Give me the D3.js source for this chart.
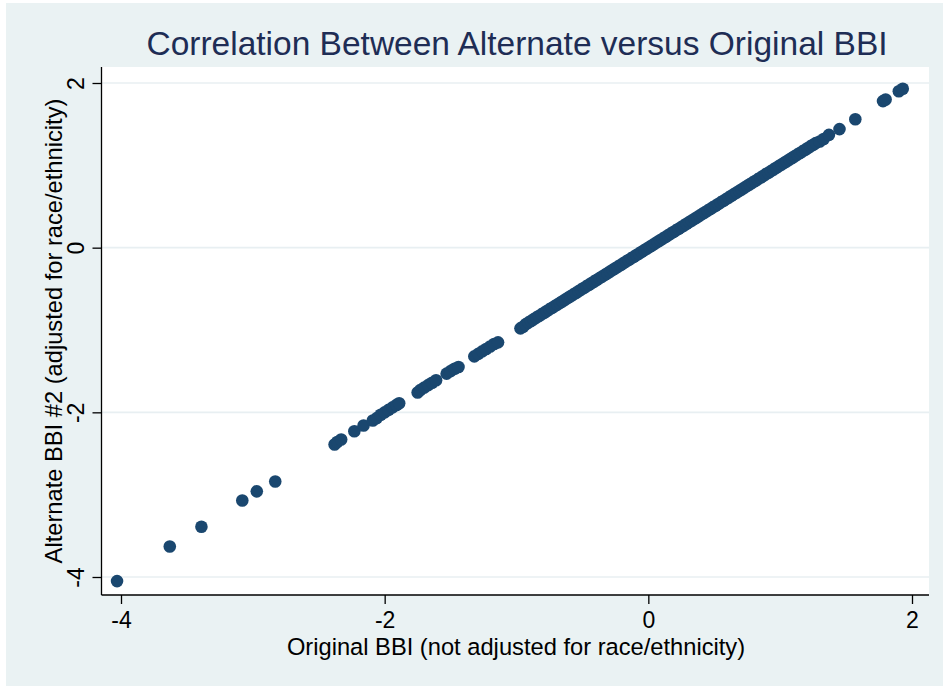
<!DOCTYPE html>
<html>
<head>
<meta charset="utf-8">
<script src="https://cdn.jsdelivr.net/npm/d3@7"></script>
<style>
  html, body { margin: 0; padding: 0; background: #ffffff; }
  svg { display: block; }
</style>
</head>
<body>
<svg id="chart" width="943" height="688"></svg>
<script>
// ---- data ----
const title = "Correlation Between Alternate versus Original BBI";
const xLabel = "Original BBI (not adjusted for race/ethnicity)";
const yLabel = "Alternate BBI #2 (adjusted for race/ethnicity)";
const xTicks = [-4, -2, 0, 2];
const yTicks = [-4, -2, 0, 2];

// Original BBI (x)
const originalBBI = [
  -4.03, -3.63, -3.39, -3.08, -2.97, -2.83,
  -2.38, -2.36, -2.33, -2.23, -2.16,
  -2.09, -2.06, -2.03, -2.00, -1.97, -1.94, -1.91, -1.89,
  -1.75, -1.73, -1.70, -1.67, -1.64, -1.61,
  -1.53, -1.50, -1.47, -1.44,
  -1.32, -1.29, -1.26, -1.23, -1.20, -1.17, -1.14,
  -0.97, -0.95, -0.93, -0.91, -0.89, -0.87, -0.85, -0.83, -0.81, -0.79,
  -0.77, -0.75, -0.73, -0.71, -0.69, -0.67, -0.65, -0.63, -0.61, -0.59,
  -0.57, -0.55, -0.53, -0.51, -0.49, -0.47, -0.45, -0.43, -0.41, -0.39,
  -0.37, -0.35, -0.33, -0.31, -0.29, -0.27, -0.25, -0.23, -0.21, -0.19,
  -0.17, -0.15, -0.13, -0.11, -0.09, -0.07, -0.05, -0.03, -0.01, 0.01,
  0.03, 0.05, 0.07, 0.09, 0.11, 0.13, 0.15, 0.17, 0.19, 0.21,
  0.23, 0.25, 0.27, 0.29, 0.31, 0.33, 0.35, 0.37, 0.39, 0.41,
  0.43, 0.45, 0.47, 0.49, 0.51, 0.53, 0.55, 0.57, 0.59, 0.61,
  0.63, 0.65, 0.67, 0.69, 0.71, 0.73, 0.75, 0.77, 0.79, 0.81,
  0.83, 0.85, 0.87, 0.89, 0.91, 0.93, 0.95, 0.97, 0.99, 1.01,
  1.03, 1.05, 1.07, 1.09, 1.11, 1.13, 1.15, 1.17, 1.19, 1.21,
  1.23, 1.25, 1.27, 1.30, 1.33,
  1.37, 1.45, 1.57, 1.78, 1.80, 1.90, 1.93
];
// Alternate BBI #2 (y)
const alternateBBI = [
  -4.05, -3.63, -3.39, -3.07, -2.96, -2.84,
  -2.39, -2.36, -2.33, -2.23, -2.16,
  -2.10, -2.07, -2.03, -2.00, -1.97, -1.94, -1.91, -1.89,
  -1.76, -1.73, -1.70, -1.67, -1.64, -1.61,
  -1.53, -1.50, -1.47, -1.45,
  -1.32, -1.29, -1.26, -1.23, -1.20, -1.17, -1.15,
  -0.98, -0.96, -0.93, -0.91, -0.89, -0.87, -0.85, -0.83, -0.81, -0.79,
  -0.77, -0.75, -0.73, -0.71, -0.69, -0.67, -0.65, -0.63, -0.61, -0.59,
  -0.57, -0.55, -0.53, -0.51, -0.49, -0.47, -0.45, -0.43, -0.41, -0.39,
  -0.37, -0.35, -0.33, -0.31, -0.29, -0.27, -0.25, -0.23, -0.21, -0.19,
  -0.17, -0.15, -0.13, -0.11, -0.09, -0.07, -0.05, -0.03, -0.01, 0.01,
  0.03, 0.05, 0.07, 0.09, 0.11, 0.13, 0.15, 0.17, 0.19, 0.21,
  0.23, 0.25, 0.27, 0.29, 0.31, 0.33, 0.35, 0.37, 0.39, 0.41,
  0.43, 0.45, 0.47, 0.49, 0.51, 0.53, 0.55, 0.57, 0.59, 0.61,
  0.63, 0.65, 0.67, 0.69, 0.71, 0.73, 0.75, 0.77, 0.79, 0.81,
  0.83, 0.85, 0.87, 0.89, 0.91, 0.93, 0.95, 0.97, 0.99, 1.01,
  1.03, 1.05, 1.07, 1.09, 1.11, 1.13, 1.15, 1.17, 1.19, 1.21,
  1.23, 1.25, 1.27, 1.29, 1.32,
  1.37, 1.44, 1.56, 1.78, 1.80, 1.90, 1.93
];

// ---- layout ----
const W = 943, H = 688;
const plot = { left: 101.5, right: 929, top: 67, bottom: 595 };
const bg = "#eaf2f3";
const markColor = "#1a476f";
const font = "Liberation Sans, Arial, Helvetica, sans-serif";

const svg = d3.select("#chart");

svg.append("rect").attr("x", 6).attr("y", 3).attr("width", W - 6).attr("height", H - 5)
  .attr("fill", bg);

svg.append("rect")
  .attr("x", plot.left).attr("y", plot.top)
  .attr("width", plot.right - plot.left).attr("height", plot.bottom - plot.top)
  .attr("fill", "#ffffff");

// scales: ticks -4 -> 121, 2 -> 912 ; y 2 -> 83, -4 -> 577
const x = d3.scaleLinear().domain([-4, 2]).range([121, 912]);
const y = d3.scaleLinear().domain([-4, 2]).range([577, 83]);

// gridlines
svg.append("g").selectAll("line").data(yTicks).join("line")
  .attr("x1", plot.left).attr("x2", plot.right)
  .attr("y1", d => y(d)).attr("y2", d => y(d))
  .attr("stroke", "#e8eff2").attr("stroke-width", 1.6);

// points
const pts = originalBBI.map((v, i) => [v, alternateBBI[i]]);
svg.append("g").selectAll("circle").data(pts).join("circle")
  .attr("cx", d => x(d[0])).attr("cy", d => y(d[1]))
  .attr("r", 6.3).attr("fill", markColor);

const fmt = d => d < 0 ? "-" + Math.abs(d) : String(d);

// x axis
const xAxis = d3.axisBottom(x).tickValues(xTicks).tickSize(9).tickSizeOuter(0).tickFormat(fmt);
const gx = svg.append("g").attr("transform", `translate(0,${plot.bottom})`).call(xAxis);
gx.select(".domain").remove();
gx.append("line").attr("x1", plot.left).attr("x2", plot.right).attr("y1", 0).attr("y2", 0)
  .attr("stroke", "#000").attr("stroke-width", 1.3);
gx.selectAll(".tick line").attr("stroke", "#000").attr("stroke-width", 1.3);
gx.selectAll(".tick text").attr("font-family", font)
  .attr("font-size", 23).attr("fill", "#000").attr("dy", "0.92em");

// y axis
const yAxis = d3.axisLeft(y).tickValues(yTicks).tickSize(9).tickSizeOuter(0).tickFormat(fmt);
const gy = svg.append("g").attr("transform", `translate(${plot.left},0)`).call(yAxis);
gy.select(".domain").remove();
gy.append("line").attr("x1", 0).attr("x2", 0).attr("y1", plot.top).attr("y2", plot.bottom)
  .attr("stroke", "#000").attr("stroke-width", 1.3);
gy.selectAll(".tick line").attr("stroke", "#000").attr("stroke-width", 1.3);
gy.selectAll(".tick text")
  .attr("font-family", font).attr("font-size", 23).attr("fill", "#000")
  .attr("x", null).attr("dy", null)
  .attr("text-anchor", "middle")
  .attr("transform", "translate(-17.5,0) rotate(-90)");

// title
svg.append("text").attr("x", 517).attr("y", 55).attr("text-anchor", "middle")
  .attr("font-family", font).attr("font-size", 33.5)
  .attr("fill", "#1e2d55").text(title);

// axis titles
svg.append("text").attr("x", 516).attr("y", 655).attr("text-anchor", "middle")
  .attr("font-family", font).attr("font-size", 23.7)
  .attr("fill", "#000").text(xLabel);

svg.append("text").attr("transform", `translate(61.5,${(plot.top + plot.bottom) / 2}) rotate(-90)`)
  .attr("text-anchor", "middle")
  .attr("font-family", font).attr("font-size", 23.7)
  .attr("fill", "#000").text(yLabel);
</script>
</body>
</html>
